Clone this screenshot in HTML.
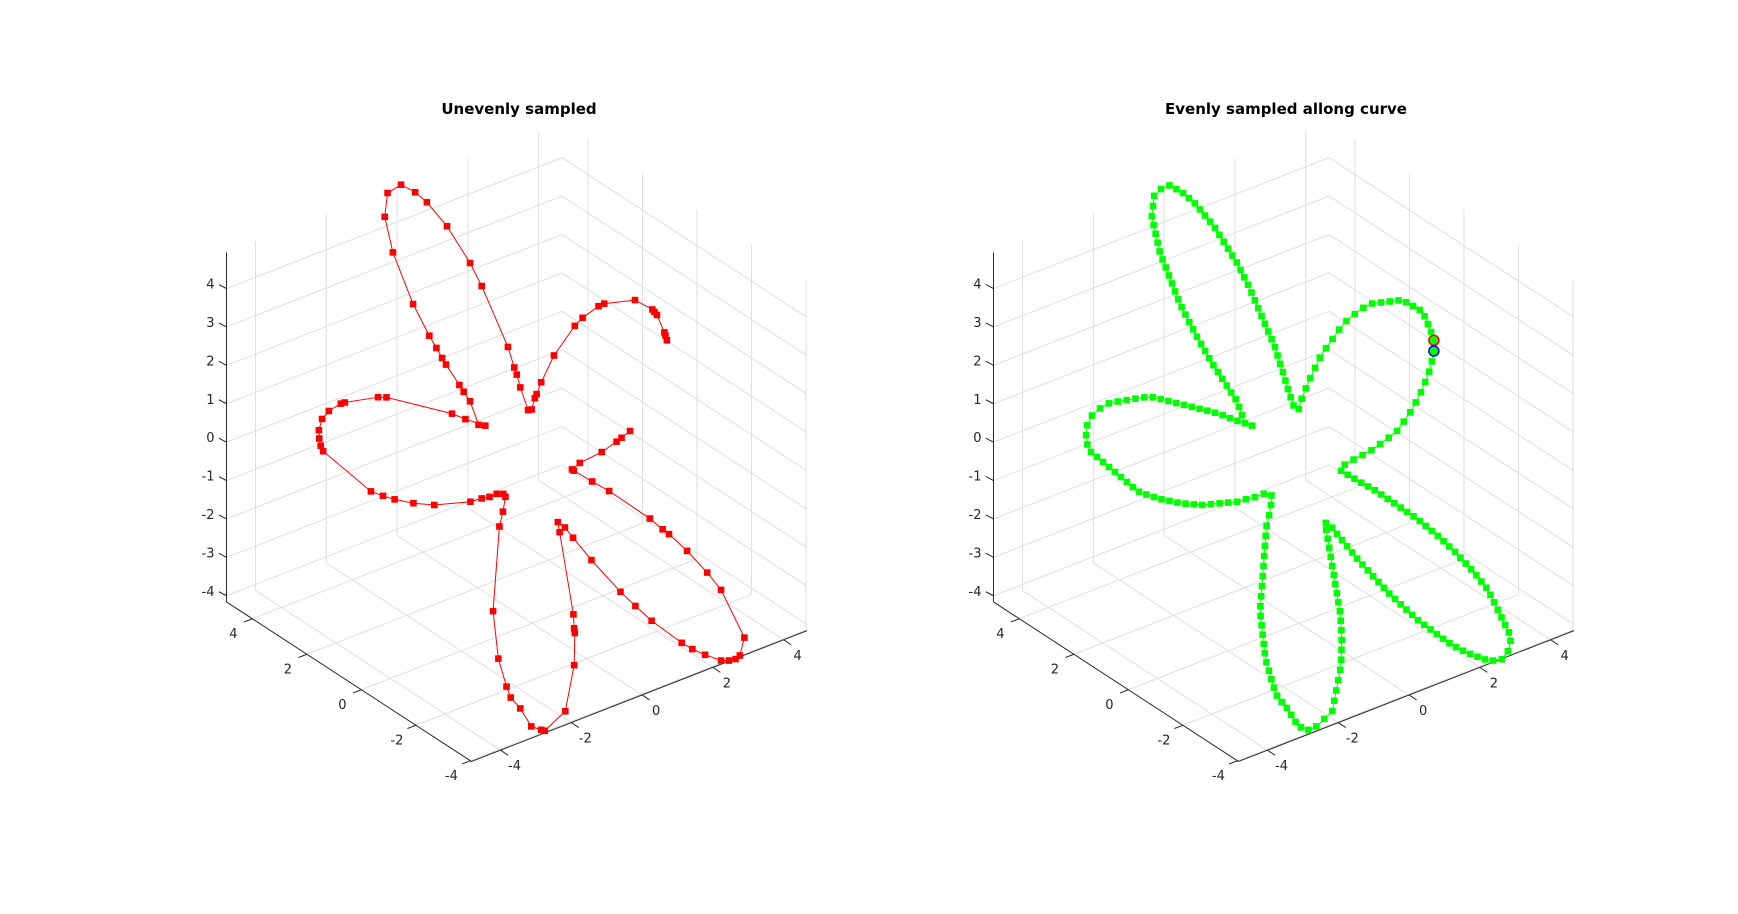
<!DOCTYPE html>
<html>
<head>
<meta charset="utf-8">
<style>
  html,body{margin:0;padding:0;background:#fff;}
  svg{display:block;}
  text{font-family:"DejaVu Sans","Liberation Sans",sans-serif;}
</style>
</head>
<body>
<svg id="fig" width="1738" height="914" viewBox="0 0 1738 914" xmlns="http://www.w3.org/2000/svg">
  <rect x="0" y="0" width="1738" height="914" fill="#ffffff"/>
  <g id="left"></g>
  <g id="right"></g>
</svg>
<script>
// ---- data (3D curve samples, y = 0 plane) ----
const redX = [3.81,3.77,3.74,3.53,3.46,3.40,2.91,2.04,1.88,1.43,1.21,0.62,0.26,0.13,0.08,-0.01,-0.11,
  -0.33,-0.43,-0.50,-0.68,-1.42,-1.75,-2.40,-2.97,-3.30,-3.70,-4.08,-4.16,-3.93,-3.36,-2.90,-2.70,-2.54,-2.43,-2.05,-1.93,-1.75,-1.51,-1.32,
  -1.88,-2.26,-4.11,-4.35,-5.29,-5.40,-5.74,-5.93,-6.02,-6.01,-5.97,-5.90,-4.55,-4.21,-3.88,-3.35,-2.76,-1.74,-1.42,-1.20,-1.00,-0.81,-0.75,
  -0.82,-0.92,-1.10,-0.95,-0.72,-0.60,-0.33,-0.02,0.26,0.36,0.94,1.19,1.21,1.19,1.17,0.78,0.73,
  0.93,1.16,1.68,2.50,2.92,3.38,4.23,4.53,4.89,5.34,5.56,5.75,5.87,6.00,5.34,4.95,4.38,3.87,3.69,3.33,2.18,1.70,1.18,1.13,1.35,1.97,2.39,2.53,2.77];
const redY = redX.map(() => 0);
const redZ = [1.84,1.98,2.07,2.60,2.70,2.79,3.21,3.43,3.42,3.28,3.15,2.59,2.02,1.76,1.67,1.41,1.43,
  2.10,2.47,2.68,3.28,5.13,5.85,7.04,7.87,8.25,8.59,8.51,7.92,6.91,5.36,4.37,3.98,3.66,3.45,2.78,2.56,2.25,1.55,1.46,
  1.83,2.11,3.20,3.29,3.49,3.50,3.43,3.29,3.03,2.81,2.61,2.44,0.91,0.67,0.46,0.17,-0.09,-0.37,-0.40,-0.44,-0.43,-0.50,-0.60,
  -0.96,-1.31,-3.45,-4.74,-5.55,-5.88,-6.26,-6.84,-7.03,-7.09,-6.79,-5.68,-4.85,-4.72,-4.35,-2.07,-1.79,
  -2.00,-2.35,-3.12,-4.24,-4.76,-5.31,-6.19,-6.46,-6.74,-7.05,-7.13,-7.16,-7.11,-6.69,-5.21,-4.62,-3.85,-3.23,-3.04,-2.63,-1.50,-1.08,-0.61,-0.56,-0.47,-0.41,-0.29,-0.24,-0.15];
// closing part of the full curve (present in the evenly sampled version)
const closeX = [3.17,3.49,3.72,3.81];
const closeZ = [0.23,0.68,1.16,1.56];
const nEven = 262;
const xTicks = [-4,-2,0,2,4];
const yTicks = [-4,-2,0,2,4];
const zTicks = [-4,-3,-2,-1,0,1,2,3,4];
const xLim = [-4.82,4.66], yLim = [-4.04,4.95], zLim = [-4.16,4.94];
const titles = ["Unevenly sampled","Evenly sampled allong curve"];

// ---- projection ----
const O = {x:532, y:463.5};
const EX = [35.4,-13.8], EY = [-27.25,-17.75], EZ = [0,-38.4];
function proj(x,y,z,off){
  return [O.x + off + EX[0]*x + EY[0]*y + EZ[0]*z, O.y + EX[1]*x + EY[1]*y + EZ[1]*z];
}
const NS = "http://www.w3.org/2000/svg";
function mk(tag, attrs, parent){
  const e = document.createElementNS(NS, tag);
  for (const k in attrs) e.setAttribute(k, attrs[k]);
  parent.appendChild(e);
  return e;
}
function line3(g, a, b, off, stroke, w){
  const p = proj(a[0],a[1],a[2],off), q = proj(b[0],b[1],b[2],off);
  return mk('line',{x1:p[0].toFixed(2),y1:p[1].toFixed(2),x2:q[0].toFixed(2),y2:q[1].toFixed(2),stroke:stroke,'stroke-width':w},g);
}

function drawAxes(g, off, title){
  const [x0,x1]=xLim,[y0,y1]=yLim,[z0,z1]=zLim;
  const grid = mk('g',{},g);
  
  
  const gc = '#dfdfdf';
  xTicks.forEach(t=>{
    line3(grid,[t,y0,z0],[t,y1,z0],off,gc,1);
    line3(grid,[t,y1,z0],[t,y1,z1],off,gc,1);
  });
  yTicks.forEach(t=>{
    line3(grid,[x0,t,z0],[x1,t,z0],off,gc,1);
    line3(grid,[x1,t,z0],[x1,t,z1],off,gc,1);
  });
  zTicks.forEach(t=>{
    line3(grid,[x0,y1,t],[x1,y1,t],off,gc,1);
    line3(grid,[x1,y0,t],[x1,y1,t],off,gc,1);
  });
  const ax = mk('g',{},g);
  
  
  const ac = '#262626';
  line3(ax,[x0,y0,z0],[x1,y0,z0],off,ac,1);
  line3(ax,[x0,y0,z0],[x0,y1,z0],off,ac,1);
  line3(ax,[x0,y1,z0],[x0,y1,z1],off,ac,1);
  const lab = mk('g',{'font-size':'13','fill':'#262626'},g);
  
  
  xTicks.forEach(t=>{
    const p = proj(t,y0,z0,off);
    mk('line',{x1:p[0],y1:p[1],x2:p[0]+7.5,y2:p[1]+5,stroke:ac,'stroke-width':1},ax);
    const tx = mk('text',{x:p[0]+14,y:p[1]+20,'text-anchor':'middle'},lab);
    
    
    tx.textContent = String(t);
  });
  yTicks.forEach(t=>{
    const p = proj(x0,t,z0,off);
    mk('line',{x1:p[0],y1:p[1],x2:p[0]-8.5,y2:p[1]+3.3,stroke:ac,'stroke-width':1},ax);
    const tx = mk('text',{x:p[0]-19,y:p[1]+19,'text-anchor':'middle'},lab);
    
    
    tx.textContent = String(t);
  });
  zTicks.forEach(t=>{
    const p = proj(x0,y1,t,off);
    mk('line',{x1:p[0],y1:p[1],x2:p[0]-7.6,y2:p[1]-4,stroke:ac,'stroke-width':1},ax);
    const tx = mk('text',{x:p[0]-12,y:p[1]-0,'text-anchor':'end'},lab);
    
    
    tx.textContent = String(t);
  });
  const tt = mk('text',{x:519+off,y:114,'text-anchor':'middle','font-size':'15','font-weight':'bold',fill:'#000'},g);
  
  
  tt.textContent = title;
}

function drawSeries(g, X, Y, Z, off, color){
  const pts = X.map((x,i)=>proj(x,Y[i],Z[i],off));
  const pl = mk('polyline',{points:pts.map(p=>p[0].toFixed(2)+','+p[1].toFixed(2)).join(' '),fill:'none',stroke:color,'stroke-width':1},g);
  
  
  const s = 6.6;
  pts.forEach(p=>{
    const r = mk('rect',{x:(p[0]-s/2).toFixed(2),y:(p[1]-s/2).toFixed(2),width:s,height:s,fill:color},g);
    
    
  });
  return pts;
}

// left plot
const L = document.getElementById('left');
drawAxes(L, 0, titles[0]);
drawSeries(L, redX, redY, redZ, 0, '#ff0000');

// right plot: evenly resampled along full curve
const R = document.getElementById('right');
const OFF = 767;
drawAxes(R, OFF, titles[1]);
const pX = redX.concat(closeX), pZ = redZ.concat(closeZ), pY = pX.map(()=>0);
const cum=[0];
for(let i=1;i<pX.length;i++){
  cum.push(cum[i-1]+Math.hypot(pX[i]-pX[i-1],pY[i]-pY[i-1],pZ[i]-pZ[i-1]));
}
const total = cum[cum.length-1];
const gX=[],gY=[],gZ=[];
let j=0;
for(let k=0;k<nEven;k++){
  const s = total*k/(nEven-1);
  while(j<cum.length-2 && cum[j+1]<s) j++;
  const f = (s-cum[j])/((cum[j+1]-cum[j])||1);
  gX.push(pX[j]+f*(pX[j+1]-pX[j]));
  gY.push(pY[j]+f*(pY[j+1]-pY[j]));
  gZ.push(pZ[j]+f*(pZ[j+1]-pZ[j]));
}
const gp = drawSeries(R, gX, gY, gZ, OFF, '#00ff00');
const c1 = mk('circle',{cx:gp[0][0],cy:gp[0][1],r:5,fill:'#00ff00',stroke:'#ff0000','stroke-width':1.5},R);


const last = gp[gp.length-1];
const c2 = mk('circle',{cx:last[0],cy:last[1],r:5,fill:'#00ff00',stroke:'#0000ff','stroke-width':1.5},R);


</script>
</body>
</html>
